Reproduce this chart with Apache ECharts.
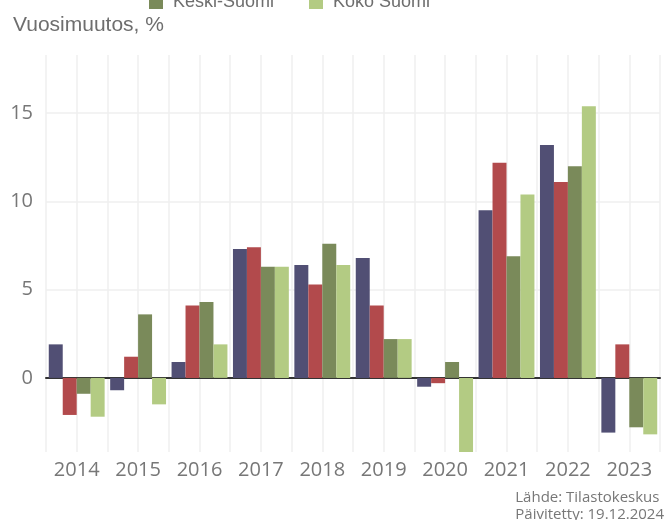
<!DOCTYPE html>
<html>
<head>
<meta charset="utf-8">
<script src="https://cdn.jsdelivr.net/npm/echarts@6/dist/echarts.min.js"></script>
<style>
  html, body { margin: 0; padding: 0; background: #fff; }
  #chart { width: 664px; height: 520px; }
</style>
</head>
<body>
<div id="chart"></div>
<script>
// vuosimuutos, %
const years = ["2014", "2015", "2016", "2017", "2018", "2019", "2020", "2021", "2022", "2023"]
const seriesNames = ["Jyväskylä", "Jyväskylän seutu", "Keski-Suomi", "Koko Suomi"]
const jyvaskyla = [1.9, -0.7, 0.9, 7.3, 6.4, 6.8, -0.5, 9.5, 13.2, -3.1]
const seutu = [-2.1, 1.2, 4.1, 7.4, 5.3, 4.1, -0.3, 12.2, 11.1, 1.9]
const keskiSuomi = [-0.9, 3.6, 4.3, 6.3, 7.6, 2.2, 0.9, 6.9, 12.0, -2.8]
const kokoSuomi = [-2.2, -1.5, 1.9, 6.3, 6.4, 2.2, -4.3, 10.4, 15.4, -3.2]
const COLOR_LIST = ["#514f74", "#b24a4c", "#7a8a5a", "#b3cb83"]

// apurivit pystyruudukolle (rajat + keskikohdat)
const halfSlots = years.flatMap(y => [y + "a", y + "b"])

const chart = echarts.init(document.getElementById("chart"))

const values = [jyvaskyla, seutu, keskiSuomi, kokoSuomi]

const legendBase = {
  orient: "vertical",
  top: -38,
  itemWidth: 14,
  itemHeight: 14,
  itemGap: 8,
  icon: "rect",
  textStyle: { fontFamily: "Liberation Sans", fontSize: 18, color: "#6e6e6e", padding: [0, 0, 0, 5] }
}

const option = {
  animation: false,
  color: COLOR_LIST,
  title: {
    text: "Vuosimuutos, %",
    left: 8,
    top: 10,
    textStyle: {
      fontFamily: "Liberation Sans",
      fontSize: 21,
      fontWeight: "normal",
      color: "#6e6e6e"
    }
  },
  legend: [
    { ...legendBase, data: [seriesNames[0], seriesNames[2]], left: 144 },
    { ...legendBase, data: [seriesNames[1], seriesNames[3]], left: 304 }
  ],
  grid: {
    left: 46,
    right: 4,
    top: 55,
    bottom: 68,
    containLabel: false
  },
  xAxis: [
    {
      type: "category",
      data: years,
      axisLine: { onZero: true, lineStyle: { color: "#333", width: 2 } },
      axisTick: { show: false },
      splitLine: { show: false },
      axisLabel: {
        margin: 8,
        fontFamily: "Open Sans",
        fontSize: 20,
        color: "#777"
      }
    },
    {
      type: "category",
      data: halfSlots,
      position: "bottom",
      axisLine: { show: false },
      axisTick: { show: false },
      axisLabel: { show: false },
      splitLine: {
        show: true,
        interval: 0,
        lineStyle: { color: "#efefef", width: 1.5 }
      }
    }
  ],
  yAxis: {
    type: "value",
    min: -4.2,
    max: 18.3,
    axisLine: { show: false },
    axisTick: { show: false },
    axisLabel: {
      margin: 13,
      showMinLabel: false,
      showMaxLabel: false,
      fontFamily: "Open Sans",
      fontSize: 20,
      color: "#777"
    },
    splitLine: {
      showMinLine: false,
      showMaxLine: false,
      lineStyle: { color: "#efefef", width: 1.5 }
    }
  },
  graphic: [
    {
      type: "text",
      right: 0,
      top: 489,
      style: {
        text: "Lähde: Tilastokeskus\nPäivitetty: 19.12.2024",
        align: "right",
        lineHeight: 17,
        fontFamily: "Open Sans",
        fontSize: 15,
        fill: "#777"
      }
    }
  ],
  series: seriesNames.map((name, index) => ({
    name: name,
    type: "bar",
    xAxisIndex: 0,
    data: values[index],
    barGap: 0,
    barCategoryGap: "9%",
    clip: true
  }))
}

chart.setOption(option)
</script>
</body>
</html>
